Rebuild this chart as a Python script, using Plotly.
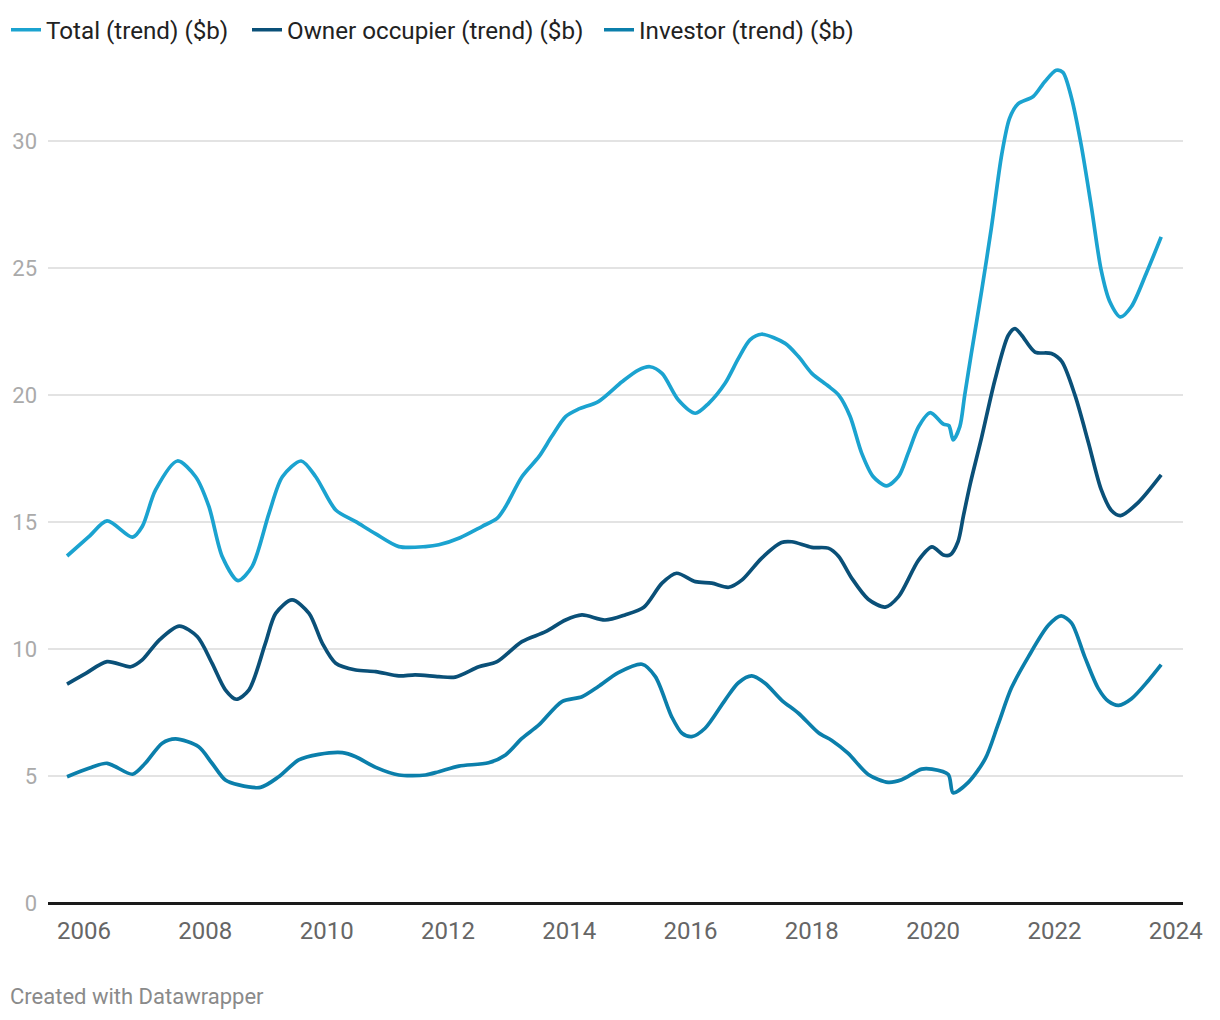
import plotly.graph_objects as go

# ---- Data (decimal years, $b) ----
total_x = [2005.72, 2006.08, 2006.38, 2006.80, 2006.96, 2007.18, 2007.54, 2007.84, 2008.06, 2008.28,
           2008.54, 2008.77, 2009.05, 2009.27, 2009.58, 2009.82, 2010.15, 2010.48, 2010.81, 2011.19,
           2011.63, 2011.85, 2012.20, 2012.56, 2012.81, 2012.95, 2013.22, 2013.50, 2013.71, 2013.94,
           2014.15, 2014.48, 2014.87, 2015.14, 2015.33, 2015.53, 2015.80, 2016.08, 2016.30, 2016.57,
           2016.79, 2016.98, 2017.17, 2017.56, 2017.78, 2018.00, 2018.27, 2018.44, 2018.63, 2018.82,
           2019.01, 2019.23, 2019.43, 2019.59, 2019.76, 2019.95, 2020.17, 2020.26, 2020.33, 2020.44,
           2020.52, 2020.63, 2020.80, 2020.96, 2021.13, 2021.26, 2021.40, 2021.65, 2021.84, 2022.03,
           2022.14, 2022.28, 2022.44, 2022.61, 2022.77, 2022.91, 2023.09, 2023.27, 2023.52, 2023.76]
total_y = [13.66, 14.42, 15.04, 14.40, 14.82, 16.26, 17.40, 16.78, 15.60, 13.63,
           12.69, 13.24, 15.34, 16.78, 17.40, 16.78, 15.47, 15.01, 14.53, 14.03,
           14.03, 14.10, 14.38, 14.82, 15.14, 15.60, 16.78, 17.57, 18.36, 19.15,
           19.44, 19.74, 20.52, 20.98, 21.11, 20.85, 19.80, 19.28, 19.67, 20.46,
           21.44, 22.17, 22.39, 22.03, 21.51, 20.85, 20.35, 20.00, 19.16, 17.72,
           16.79, 16.42, 16.79, 17.72, 18.75, 19.30, 18.85, 18.79, 18.23, 18.75,
           19.98, 21.63, 24.10, 26.57, 29.45, 30.89, 31.46, 31.75, 32.33, 32.78,
           32.70, 31.71, 29.86, 27.39, 24.92, 23.69, 23.07, 23.48, 24.82, 26.22]

owner_x = [2005.72, 2006.03, 2006.38, 2006.77, 2006.96, 2007.24, 2007.57, 2007.87, 2008.11, 2008.33,
           2008.51, 2008.72, 2008.99, 2009.16, 2009.43, 2009.71, 2009.93, 2010.15, 2010.48, 2010.81,
           2011.19, 2011.46, 2011.85, 2012.12, 2012.51, 2012.81, 2013.22, 2013.61, 2013.94, 2014.21,
           2014.59, 2014.92, 2015.23, 2015.53, 2015.77, 2016.08, 2016.35, 2016.63, 2016.85, 2017.17,
           2017.50, 2017.67, 2018.00, 2018.27, 2018.44, 2018.66, 2018.93, 2019.21, 2019.43, 2019.76,
           2019.98, 2020.17, 2020.28, 2020.41, 2020.50, 2020.61, 2020.80, 2021.02, 2021.24, 2021.35,
           2021.46, 2021.68, 2021.95, 2022.12, 2022.34, 2022.56, 2022.77, 2022.94, 2023.09, 2023.38,
           2023.76]
owner_y = [8.62, 9.04, 9.50, 9.30, 9.57, 10.35, 10.90, 10.48, 9.44, 8.39,
           8.02, 8.39, 10.22, 11.40, 11.93, 11.40, 10.22, 9.44, 9.17, 9.11,
           8.94, 8.98, 8.91, 8.89, 9.30, 9.50, 10.29, 10.68, 11.14, 11.34,
           11.14, 11.34, 11.64, 12.59, 12.98, 12.65, 12.59, 12.43, 12.72, 13.57,
           14.19, 14.22, 14.00, 13.97, 13.65, 12.78, 11.96, 11.65, 12.06, 13.50,
           14.02, 13.70, 13.70, 14.22, 15.25, 16.48, 18.33, 20.60, 22.35, 22.61,
           22.35, 21.69, 21.63, 21.32, 19.98, 18.13, 16.28, 15.45, 15.25, 15.76,
           16.85]

investor_x = [2005.72, 2006.08, 2006.38, 2006.80, 2007.01, 2007.29, 2007.51, 2007.89, 2008.11, 2008.33,
              2008.55, 2008.91, 2009.21, 2009.54, 2009.87, 2010.26, 2010.48, 2010.81, 2011.19, 2011.63,
              2011.85, 2012.18, 2012.67, 2012.95, 2013.22, 2013.50, 2013.88, 2014.21, 2014.48, 2014.81,
              2015.20, 2015.42, 2015.69, 2015.86, 2016.02, 2016.24, 2016.57, 2016.79, 2017.01, 2017.23,
              2017.50, 2017.78, 2018.11, 2018.33, 2018.60, 2018.93, 2019.26, 2019.48, 2019.81, 2019.98,
              2020.25, 2020.33, 2020.58, 2020.86, 2021.07, 2021.29, 2021.57, 2021.90, 2022.11, 2022.28,
              2022.50, 2022.72, 2022.89, 2023.06, 2023.27, 2023.55, 2023.76]
investor_y = [4.97, 5.30, 5.50, 5.07, 5.50, 6.29, 6.46, 6.15, 5.50, 4.84,
              4.65, 4.55, 4.97, 5.63, 5.85, 5.92, 5.76, 5.34, 5.04, 5.04,
              5.17, 5.39, 5.52, 5.83, 6.48, 7.01, 7.93, 8.12, 8.52, 9.07,
              9.40, 8.91, 7.33, 6.68, 6.55, 6.88, 7.99, 8.67, 8.94, 8.65,
              7.99, 7.47, 6.70, 6.40, 5.89, 5.06, 4.75, 4.85, 5.27, 5.27,
              5.06, 4.34, 4.75, 5.68, 7.02, 8.46, 9.69, 10.93, 11.30, 11.03,
              9.69, 8.46, 7.94, 7.78, 8.04, 8.76, 9.38]

series_names = ["Total (trend) ($b)", "Owner occupier (trend) ($b)", "Investor (trend) ($b)"]
series_colors = ["#1ba3d0", "#0a5078", "#0b7fab"]
x_ticks = [2006, 2008, 2010, 2012, 2014, 2016, 2018, 2020, 2022, 2024]
y_ticks = [0, 5, 10, 15, 20, 25, 30]

FONT = "Roboto, 'Noto Sans', sans-serif"
W, H = 1220, 1020
ML, MR, MT, MB = 48, 37, 52, 117
PW, PH = W - ML - MR, H - MT - MB

legend_ids = ["legend", "legend2", "legend3"]
legend_left_px = [6, 247, 599]

fig = go.Figure()
for name, xs, ys, col, lid in zip(series_names,
                                  [total_x, owner_x, investor_x],
                                  [total_y, owner_y, investor_y],
                                  series_colors, legend_ids):
    fig.add_trace(go.Scatter(
        x=xs, y=ys, name=name, mode="lines", legend=lid,
        line=dict(color=col, width=3.7, shape="spline", smoothing=0.8),
        hoverinfo="skip",
    ))

legend_common = dict(
    orientation="h", xref="container", yref="container",
    xanchor="left", yanchor="middle",
    font=dict(family=FONT, size=24.2, color="#222222"),
    itemwidth=30, bgcolor="rgba(0,0,0,0)",
)
legends = {}
for lid, px in zip(legend_ids, legend_left_px):
    legends[lid] = dict(legend_common, x=px / W, y=1 - 30 / H)

fig.update_layout(
    width=W, height=H,
    margin=dict(l=ML, r=MR, t=MT, b=MB, autoexpand=False),
    paper_bgcolor="white", plot_bgcolor="white",
    font=dict(family=FONT, size=22, color="#333333"),
    showlegend=True,
    **legends,
    xaxis=dict(
        range=[2005.406, 2024.12], tickvals=x_ticks, ticktext=[str(t) for t in x_ticks],
        showgrid=False, zeroline=False, showline=False, ticks="",
        tickfont=dict(family=FONT, size=24, color="#666666"),
        ticklabelstandoff=11, fixedrange=True,
    ),
    yaxis=dict(
        range=[0, 33.5], tickvals=y_ticks, ticktext=[str(t) for t in y_ticks],
        showgrid=True, gridcolor="#e3e3e3", gridwidth=1.6,
        zeroline=True, zerolinecolor="#1a1a1a", zerolinewidth=2.6,
        showline=False, ticks="",
        tickfont=dict(family=FONT, size=22, color="#aaaaaa"),
        ticklabelstandoff=10, fixedrange=True,
    ),
    annotations=[dict(
        text="Created with Datawrapper", xref="paper", yref="paper",
        x=(8 - ML) / PW, y=-(997 - (H - MB)) / PH, xanchor="left", yanchor="middle",
        showarrow=False, font=dict(family=FONT, size=22, color="#8a8a8a"),
    )],
)

fig.write_html("out.html", config={"displayModeBar": False, "responsive": False},
               post_script="document.body.style.margin='0';")
